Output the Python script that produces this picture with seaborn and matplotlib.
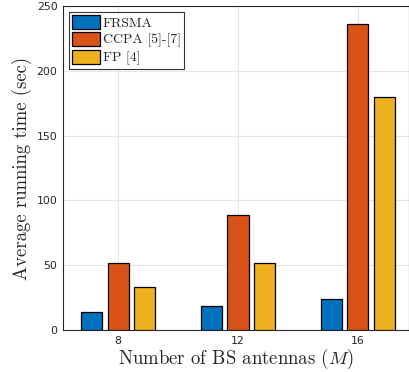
import pandas as pd
import matplotlib
matplotlib.use("Agg")
import matplotlib.pyplot as plt
import seaborn as sns

# data
antennas = ["8", "12", "16"]
frsma = [14.1, 18.8, 23.7]
ccpa = [51.5, 88.5, 236.0]
fp = [33.2, 51.9, 179.4]
methods = ["FRSMA", "CCPA [5]-[7]", "FP [4]"]
colors = ["#0072BD", "#D95319", "#EDB120"]
yticks = [0, 50, 100, 150, 200, 250]

df = pd.DataFrame({
    "M": antennas * 3,
    "time": frsma + ccpa + fp,
    "method": [m for m in methods for _ in antennas],
})

sns.set_style("whitegrid")
plt.rcParams["mathtext.fontset"] = "cm"
plt.rcParams["axes.unicode_minus"] = False

fig = plt.figure(figsize=(4.1, 3.72), dpi=100)
ax = fig.add_axes([0.1537, 0.1129, 0.845, 0.871])

sns.barplot(data=df, x="M", y="time", hue="method", hue_order=methods,
            palette=colors, width=0.66, gap=0.2, edgecolor="black",
            linewidth=0.9, saturation=1, ax=ax, zorder=3)

ax.set_xlim(-0.46, 2.43)
ax.set_ylim(0, 250)
ax.set_yticks(yticks)
ax.grid(True, color="#e6e6e6", linewidth=0.8, zorder=0)
ax.set_axisbelow(True)
for s in ax.spines.values():
    s.set_color("#262626")
    s.set_linewidth(0.8)
ax.tick_params(direction="in", length=3, width=0.6, colors="#262626",
               labelsize=7.8, pad=4)
for t in ax.get_xticklabels() + ax.get_yticklabels():
    t.set_family("DejaVu Sans")

ax.set_xlabel("Number of BS antennas ($M$)", family="cmr10", fontsize=13.5,
              color="#262626", labelpad=1)
ax.set_ylabel("Average running time (sec)", family="cmr10", fontsize=13.5,
              color="#262626", labelpad=3)

leg = ax.legend(loc="upper left", prop={"family": "cmr10", "size": 10},
                frameon=True, fancybox=False, edgecolor="black",
                handlelength=2.0, handleheight=1.2, handletextpad=0.2,
                borderpad=0.25, labelspacing=0.15, borderaxespad=0.4)
leg.get_frame().set_linewidth(0.8)

fig.savefig("out.png", dpi=100)
